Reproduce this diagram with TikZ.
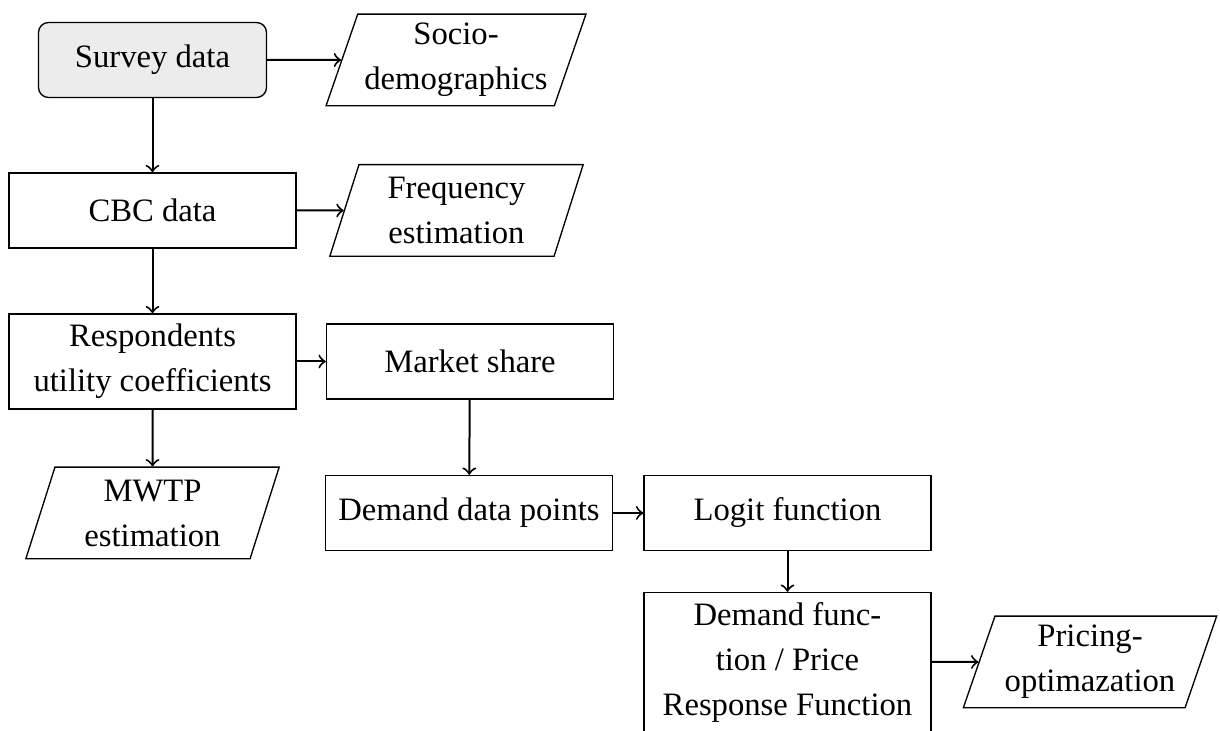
\documentclass[tikz,border=0pt]{standalone}
\usepackage{fontspec}
\setmainfont{Liberation Serif}
\usetikzlibrary{shapes.geometric}
\definecolor{boxfill}{HTML}{ECECEC}

\begin{document}
\begin{tikzpicture}[x=0.3pt,y=-0.3pt,
  font=\fontsize{9.8pt}{13.5pt}\selectfont,
  stepbox/.style={draw,rectangle,align=center,minimum width=86.1pt,minimum height=22.5pt,inner sep=2pt},
  startbox/.style={stepbox,rounded corners=3pt,fill=boxfill,minimum width=68.4pt},
  iobox/.style={draw,trapezium,trapezium left angle=70,trapezium right angle=110,
    trapezium stretches body,align=center,minimum width=76pt,minimum height=27.5pt,inner sep=2pt},
  flow/.style={->,semithick}]
  \useasboundingbox (0,0) rectangle (1220,731);

  \node[startbox] (survey) at (152.5,60) {Survey data};
  \node[iobox] (socio) at (456,60) {Socio-\\demographics};
  \node[stepbox] (cbc) at (152.5,210.5) {CBC data};
  \node[iobox] (freq) at (456.5,210.5) {Frequency\\estimation};
  \node[stepbox,minimum height=28.5pt] (resp) at (152.5,361.5) {Respondents\\utility coefficients};
  \node[stepbox] (market) at (470,361.5) {Market share};
  \node[iobox] (mwtp) at (152.5,513) {MWTP\\estimation};
  \node[stepbox] (ddata) at (469,513) {Demand data points};
  \node[stepbox] (logit) at (787.5,513) {Logit function};
  \node[stepbox,minimum height=41.7pt] (dfunc) at (787.5,662) {Demand func-\\tion / Price\\Response Function};
  \node[iobox] (pricing) at (1090,662) {Pricing-\\optimazation};

  \draw[flow] (survey) -- (socio);
  \draw[flow] (survey) -- (cbc);
  \draw[flow] (cbc) -- (freq);
  \draw[flow] (cbc) -- (resp);
  \draw[flow] (resp) -- (market);
  \draw[flow] (resp) -- (mwtp);
  \draw[flow] (market) -- (ddata);
  \draw[flow] (ddata) -- (logit);
  \draw[flow] (logit) -- (dfunc);
  \draw[flow] (dfunc) -- (pricing);
\end{tikzpicture}
\end{document}
